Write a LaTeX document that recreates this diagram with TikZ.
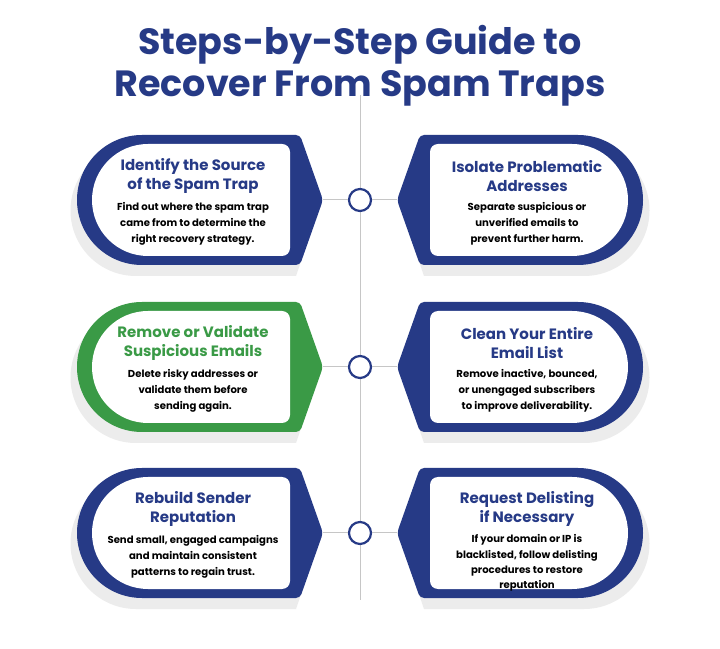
\documentclass[tikz,border=0pt]{standalone}
\usepackage{fontspec}
\setmainfont{Poppins}[BoldFont={* Bold}]
\definecolor{navy}{HTML}{263A86}
\definecolor{grn}{HTML}{3A9A46}
\definecolor{shad}{HTML}{ECECEC}
\newcommand{\cardshape}[3]{% #1 cy, #2 color, #3 scope options
 \begin{scope}[#3]
  \fill[shad] (136,#1+55) -- (300,#1+55) -- (318,#1-12) -- (296,#1-76) -- (136,#1-76) arc[start angle=270,end angle=90,radius=65.5] -- cycle;
  \fill[#2, rounded corners=4] (142,#1+65) -- (300,#1+65) -- (323,#1) -- (300,#1-65) [sharp corners]-- (142,#1-65) arc[start angle=270,end angle=90,radius=65] -- cycle;
  \fill[white] (148,#1+56) [rounded corners=8]-- (290,#1+56) -- (290,#1-56) [sharp corners]-- (148,#1-56) arc[start angle=270,end angle=90,radius=56] -- cycle;
 \end{scope}}
\tikzset{head/.style={font=\bfseries\fontsize{15}{19.5}\selectfont, align=center, text=#1},
 body/.style={font=\bfseries\fontsize{10.1}{16}\selectfont, align=center, text=black},
 mirror/.style={shift={(720,0)}, xscale=-1}}
\begin{document}
\begin{tikzpicture}[x=1pt,y=1pt]
\useasboundingbox[fill=white] (0,0) rectangle (720,648);
\node[font=\bfseries\fontsize{36.5}{42}\selectfont, text=navy, align=center] (title) at (360,582) {Steps-by-Step Guide to\\Recover From Spam Traps};
\draw[gray!45, line width=1pt] (360,553) coordinate (top) -- (360,48) coordinate (bot);
\foreach \cy/\c in {448/navy,281/grn,115/navy}{
 \cardshape{\cy}{\c}{}
 \cardshape{\cy}{navy}{mirror}
}
\foreach \cy/\n in {448/a,281/b,115/c}{
 \coordinate (L\n) at (323,\cy); \coordinate (R\n) at (397,\cy);
 \node[circle, draw=navy, line width=2.2pt, fill=white, minimum size=22pt, inner sep=0] (o\n) at (360,\cy) {};
 \draw[gray!45, line width=1pt] (L\n) -- (o\n) (o\n) -- (R\n);
}
\node[head=navy] (h1) at (193,472) {Identify the Source\\of the Spam Trap};
\node[body] (b1) at (193,424) {Find out where the spam trap\\came from to determine the\\right recovery strategy.};
\node[head=navy] (h2) at (527,472) {Isolate Problematic\\Addresses};
\node[body] (b2) at (527,424) {Separate suspicious or\\unverified emails to\\prevent further harm.};
\node[head=grn] (h3) at (193,305) {Remove or Validate\\Suspicious Emails};
\node[body] (b3) at (193,257) {Delete risky addresses or\\validate them before\\sending again.};
\node[head=navy] (h4) at (527,305) {Clean Your Entire\\Email List};
\node[body] (b4) at (527,257) {Remove inactive, bounced,\\or unengaged subscribers\\to improve deliverability.};
\node[head=navy] (h5) at (193,139) {Rebuild Sender\\Reputation};
\node[body] (b5) at (193,91) {Send small, engaged campaigns\\and maintain consistent\\patterns to regain trust.};
\node[head=navy] (h6) at (527,139) {Request Delisting\\if Necessary};
\node[body, font=\bfseries\fontsize{10.1}{15.3}\selectfont] (b6) at (527,85) {If your domain or IP is\\blacklisted, follow delisting\\procedures to restore\\reputation};
\end{tikzpicture}
\end{document}
